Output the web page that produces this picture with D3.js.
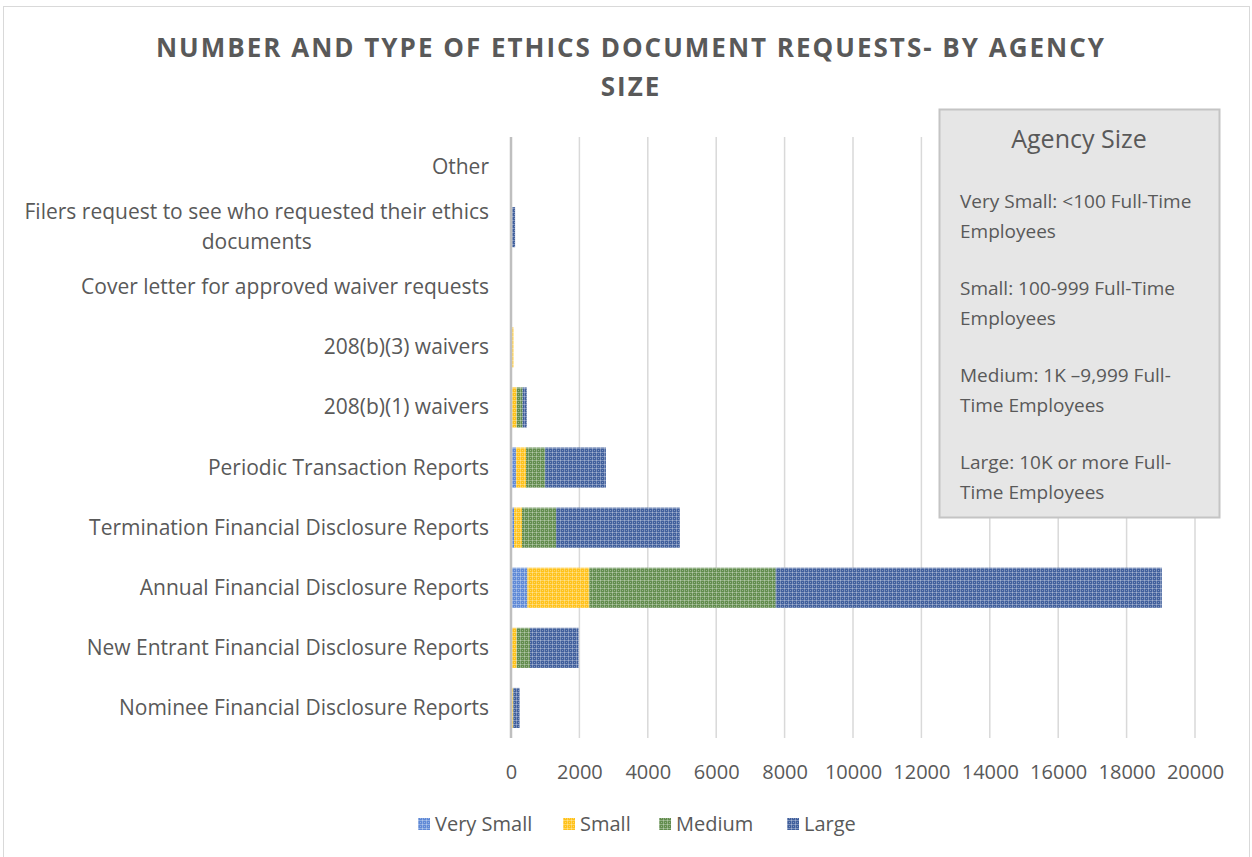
<!DOCTYPE html>
<html>
<head>
<meta charset="utf-8">
<script src="https://cdn.jsdelivr.net/npm/d3@7"></script>
<style>
    body { margin: 0; background: #fff; }
    text { font-family: "Open Sans", Lato, sans-serif; fill: #595959; }
</style>
</head>
<body>
<div id="chart"></div>
<script>
// categories top to bottom, as in the picture
const CATEGORIES = [
    "Other",
    "Filers request to see who requested their ethics documents",
    "Cover letter for approved waiver requests",
    "208(b)(3) waivers",
    "208(b)(1) waivers",
    "Periodic Transaction Reports",
    "Termination Financial Disclosure Reports",
    "Annual Financial Disclosure Reports",
    "New Entrant Financial Disclosure Reports",
    "Nominee Financial Disclosure Reports"
];
const SERIES = ["Very Small", "Small", "Medium", "Large"];
const verySmall = [0, 0, 0, 0, 30, 145, 90, 480, 20, 20];
const small = [0, 0, 0, 70, 135, 295, 230, 1810, 145, 40];
const medium = [0, 0, 0, 0, 175, 560, 995, 5450, 390, 10];
const large = [0, 120, 0, 0, 120, 1775, 3620, 11290, 1420, 180];
const X_TICKS = [0, 2000, 4000, 6000, 8000, 10000, 12000, 14000, 16000, 18000, 20000];
const SIZE_NOTES = [
    ["Very Small: <100 Full-Time", "Employees"],
    ["Small: 100-999 Full-Time", "Employees"],
    ["Medium: 1K \u20139,999 Full-", "Time Employees"],
    ["Large: 10K or more Full-", "Time Employees"]
];
const WRAPPED = {
    "Filers request to see who requested their ethics documents":
        ["Filers request to see who requested their ethics", "documents"]
};

const COLORS = ["#5f89d6", "#ffc21a", "#628c4d", "#405f9c"];

const width = 1252, height = 857;
const margin = { top: 137, right: 57, bottom: 119, left: 511 };

const svg = d3.select("#chart").append("svg")
    .attr("width", width)
    .attr("height", height);

// grid patterns for the bars
const defs = svg.append("defs");
SERIES.forEach((s, i) => {
    const p = defs.append("pattern")
        .attr("id", "pat" + i)
        .attr("width", 4).attr("height", 4)
        .attr("patternUnits", "userSpaceOnUse");
    p.append("rect").attr("width", 4).attr("height", 4).attr("fill", COLORS[i]);
    p.append("rect").attr("width", 4).attr("height", 1).attr("fill", "#fff").attr("opacity", 0.3);
    p.append("rect").attr("width", 1).attr("height", 4).attr("fill", "#fff").attr("opacity", 0.3);
    p.append("rect").attr("x", 2).attr("y", 2).attr("width", 1).attr("height", 1).attr("fill", "#fff").attr("opacity", 0.35);
});

// outer border
svg.append("rect")
    .attr("x", 3.5).attr("y", 6.5)
    .attr("width", 1246).attr("height", 860)
    .attr("fill", "none")
    .attr("stroke", "#d9d9d9");

// title
const title = svg.append("text")
    .attr("text-anchor", "middle")
    .style("font-size", "26px")
    .style("font-weight", "bold")
    .style("letter-spacing", "2px");
title.append("tspan").attr("x", 631).attr("y", 57).text("NUMBER AND TYPE OF ETHICS DOCUMENT REQUESTS- BY AGENCY");
title.append("tspan").attr("x", 631).attr("y", 96).text("SIZE");

const xScale = d3.scaleLinear()
    .domain([0, 20000])
    .range([margin.left, width - margin.right]);

const yScale = d3.scaleBand()
    .domain(CATEGORIES)
    .range([margin.top, height - margin.bottom])
    .paddingInner(0.333)
    .paddingOuter(0.1667);

// gridlines
svg.append("g")
    .selectAll("line")
    .data(X_TICKS.slice(1))
    .join("line")
    .attr("x1", d => xScale(d)).attr("x2", d => xScale(d))
    .attr("y1", margin.top).attr("y2", height - margin.bottom)
    .attr("stroke", "#d9d9d9")
    .attr("stroke-width", 1.5);

// stacked bars
const rows = CATEGORIES.map((c, i) => ({
    category: c,
    "Very Small": verySmall[i],
    "Small": small[i],
    "Medium": medium[i],
    "Large": large[i]
}));
const stacked = d3.stack().keys(SERIES)(rows);

svg.append("g")
    .selectAll("g")
    .data(stacked)
    .join("g")
    .attr("fill", (d, i) => `url(#pat${i})`)
    .selectAll("rect")
    .data(d => d)
    .join("rect")
    .attr("x", d => xScale(d[0]))
    .attr("y", d => yScale(d.data.category))
    .attr("width", d => xScale(d[1]) - xScale(d[0]))
    .attr("height", yScale.bandwidth());

// x axis labels
const xAxis = svg.append("g")
    .attr("transform", `translate(0, ${height - margin.bottom + 24})`)
    .call(d3.axisBottom(xScale).tickValues(X_TICKS).tickSize(0).tickFormat(d3.format("d")));
xAxis.select(".domain").remove();
xAxis.selectAll("text")
    .style("font-size", "20px")
    .style("font-family", "'Open Sans', sans-serif")
    .attr("fill", "#595959");

// y axis line
svg.append("line")
    .attr("x1", margin.left).attr("x2", margin.left)
    .attr("y1", margin.top).attr("y2", height - margin.bottom)
    .attr("stroke", "#bfbfbf")
    .attr("stroke-width", 2.5);

// category labels, long ones wrapped and centred like Excel does
const labelRight = 489;
const labelG = svg.append("g").style("font-size", "21px");
CATEGORIES.forEach(c => {
    const cy = yScale(c) + yScale.bandwidth() / 2;
    if (WRAPPED[c]) {
        const w = labelG.append("text").attr("text-anchor", "middle");
        WRAPPED[c].forEach((l, k) => w.append("tspan")
            .attr("x", 0)
            .attr("y", cy - 8 + k * 30)
            .text(l));
        const maxW = w.node().getBBox().width;
        w.selectAll("tspan").attr("x", labelRight - maxW / 2);
    } else {
        labelG.append("text")
            .attr("text-anchor", "end")
            .attr("x", labelRight)
            .attr("y", cy + 7)
            .text(c);
    }
});

// agency size note box
const box = svg.append("g");
box.append("rect")
    .attr("x", 939.5).attr("y", 109.5)
    .attr("width", 280).attr("height", 408)
    .attr("fill", "#e6e6e6")
    .attr("stroke", "#c4c4c4")
    .attr("stroke-width", 2);
box.append("text")
    .attr("x", 1079).attr("y", 148)
    .attr("text-anchor", "middle")
    .style("font-size", "25px")
    .text("Agency Size");
SIZE_NOTES.forEach((lines, i) => {
    const t = box.append("text").style("font-size", "19px");
    lines.forEach((l, k) => t.append("tspan")
        .attr("x", 960)
        .attr("y", 208 + i * 87 + k * 30)
        .text(l));
});

// bottom legend
const legend = svg.append("g").attr("transform", "translate(0, 824)");
const legendX = [418, 563, 659, 787];
SERIES.forEach((s, i) => {
    const item = legend.append("g").attr("transform", `translate(${legendX[i]}, 0)`);
    item.append("rect")
        .attr("x", 0).attr("y", -6)
        .attr("width", 12).attr("height", 12)
        .attr("fill", `url(#pat${i})`);
    item.append("text")
        .attr("x", 17).attr("y", 7)
        .style("font-size", "20px")
        .text(s);
});
</script>
</body>
</html>
